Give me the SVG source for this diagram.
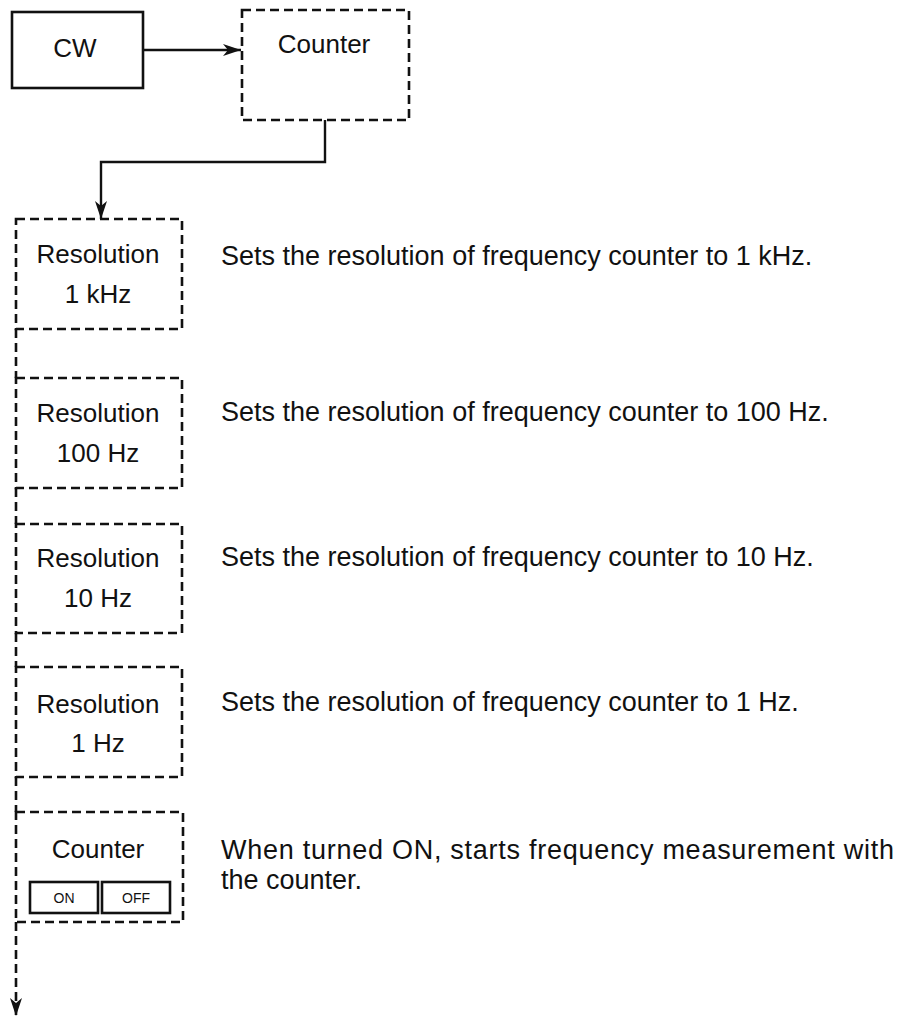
<svg xmlns="http://www.w3.org/2000/svg" width="909" height="1019" viewBox="0 0 909 1019">
<style>
text{font-family:"Liberation Sans",Arial,sans-serif;fill:#111}
.lbl{font-size:26px;text-anchor:middle}
.desc{font-size:27px}
.sm{font-size:14px;text-anchor:middle}
.dash{fill:none;stroke:#111;stroke-width:2.6;stroke-dasharray:9 5}
.solid{fill:none;stroke:#111;stroke-width:2.6}
.conn{fill:none;stroke:#111;stroke-width:2.4}
</style>
<defs>
<marker id="ah" markerWidth="18" markerHeight="12" refX="18" refY="6" orient="auto" markerUnits="userSpaceOnUse">
<path d="M0,0 L18,6 L0,12 L5,6 Z" fill="#111"/>
</marker>
</defs>
<g id="connectors">
<path class="conn" d="M143,50 H241" marker-end="url(#ah)"/>
<path class="conn" d="M325,120 V162 H101 V219" marker-end="url(#ah)"/>
<path class="dash" d="M16,329 V378 M16,488 V524 M16,633 V667 M16,777 V812 M16,922 V1016" marker-end="url(#ah)"/>
</g>
<g id="cw">
<rect class="solid" x="12" y="12" width="131" height="76"/>
<text class="lbl" x="75" y="57">CW</text>
</g>
<g id="counter-menu">
<rect class="dash" x="242" y="10" width="167" height="110"/>
<text class="lbl" x="324" y="53">Counter</text>
</g>
<g id="res-1khz">
<rect class="dash" x="16" y="219" width="166" height="110"/>
<text class="lbl" x="98" y="263">Resolution</text>
<text class="lbl" x="98" y="303">1 kHz</text>
<text class="desc" x="221" y="265">Sets the resolution of frequency counter to 1 kHz.</text>
</g>
<g id="res-100hz">
<rect class="dash" x="16" y="378" width="166" height="110"/>
<text class="lbl" x="98" y="422">Resolution</text>
<text class="lbl" x="98" y="462">100 Hz</text>
<text class="desc" x="221" y="421">Sets the resolution of frequency counter to 100 Hz.</text>
</g>
<g id="res-10hz">
<rect class="dash" x="16" y="524" width="166" height="109"/>
<text class="lbl" x="98" y="567">Resolution</text>
<text class="lbl" x="98" y="607">10 Hz</text>
<text class="desc" x="221" y="566">Sets the resolution of frequency counter to 10 Hz.</text>
</g>
<g id="res-1hz">
<rect class="dash" x="16" y="667" width="166" height="110"/>
<text class="lbl" x="98" y="713">Resolution</text>
<text class="lbl" x="98" y="752">1 Hz</text>
<text class="desc" x="221" y="711">Sets the resolution of frequency counter to 1 Hz.</text>
</g>
<g id="counter-onoff">
<rect class="dash" x="16" y="812" width="167" height="110"/>
<text class="lbl" x="98" y="858">Counter</text>
<rect class="solid" x="30" y="882" width="68" height="31"/>
<rect class="solid" x="102" y="882" width="68" height="31"/>
<text class="sm" x="64" y="903">ON</text>
<text class="sm" x="136" y="903">OFF</text>
<text class="desc" x="221" y="859" textLength="673" lengthAdjust="spacing">When turned ON, starts frequency measurement with</text>
<text class="desc" x="221" y="889">the counter.</text>
</g>
</svg>
